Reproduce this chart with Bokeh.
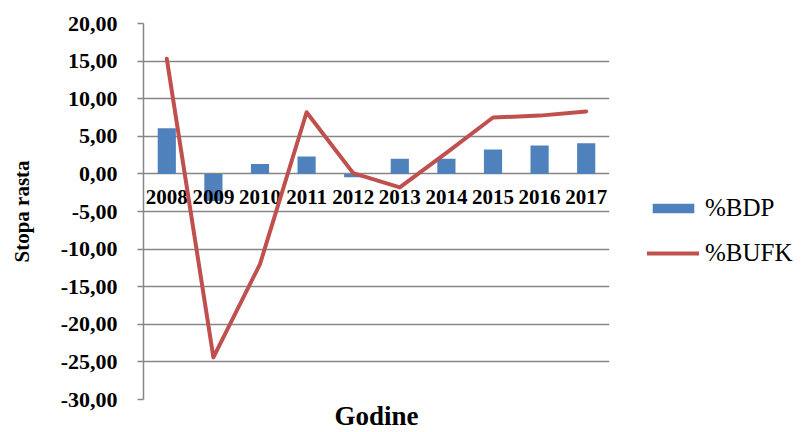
from bokeh.plotting import figure
from bokeh.models import ColumnDataSource, Legend, LegendItem, CustomJSTickFormatter, FixedTicker, Range1d
from bokeh.core.properties import value
from bokeh.embed import file_html
from bokeh.resources import INLINE

years = ["2008", "2009", "2010", "2011", "2012", "2013", "2014", "2015", "2016", "2017"]
bdp = [6.06, -3.6, 1.33, 2.3, -0.45, 2.0, 2.0, 3.23, 3.76, 4.07]
bufk = [15.3, -24.4, -12.0, 8.2, 0.1, -1.8, 2.8, 7.5, 7.75, 8.3]
y_ticks = [-30, -25, -20, -15, -10, -5, 0, 5, 10, 15, 20]

FONT = "Liberation Serif"
GRID = "#868686"

src = ColumnDataSource(dict(year=years, bdp=bdp, bufk=bufk, zero=[0] * len(years)))

p = figure(x_range=years, y_range=Range1d(-30, 20), frame_width=466, frame_height=376,
           output_backend="svg", toolbar_location=None,
           min_border_left=143, min_border_top=23, min_border_bottom=0, min_border_right=0)
p.outline_line_color = None
p.background_fill_color = "white"

# grid
p.xgrid.grid_line_color = None
p.ygrid.grid_line_color = GRID
p.ygrid.grid_line_width = 1.5

# y axis
p.yaxis.ticker = FixedTicker(ticks=y_ticks)
p.yaxis.formatter = CustomJSTickFormatter(code="return tick.toFixed(2).replace('.', ',');")
p.yaxis.axis_line_color = GRID
p.yaxis.axis_line_width = 1.5
p.yaxis.major_tick_line_color = GRID
p.yaxis.major_tick_line_width = 1.5
p.yaxis.major_tick_out = 6
p.yaxis.major_tick_in = 0
p.yaxis.minor_tick_line_color = None
p.yaxis.major_label_text_font = FONT
p.yaxis.major_label_text_font_style = "bold"
p.yaxis.major_label_text_font_size = "22px"
p.yaxis.major_label_text_color = "black"
p.yaxis.major_label_standoff = 20
p.yaxis.axis_label = "Stopa rasta"
p.yaxis.axis_label_text_font = FONT
p.yaxis.axis_label_text_font_style = "bold"
p.yaxis.axis_label_text_font_size = "21px"
p.yaxis.axis_label_text_color = "black"
p.yaxis.axis_label_standoff = 24

# x axis: only title
p.xaxis.axis_line_color = None
p.xaxis.major_tick_line_color = None
p.xaxis.major_tick_out = 0
p.xaxis.major_tick_in = 0
p.xaxis.minor_tick_line_color = None
p.xaxis.major_label_text_font_size = "0px"
p.xaxis.major_label_text_color = None
p.xaxis.major_label_standoff = 0
p.xaxis.axis_label = "Godine"
p.xaxis.axis_label_text_font = FONT
p.xaxis.axis_label_text_font_style = "bold"
p.xaxis.axis_label_text_font_size = "27px"
p.xaxis.axis_label_text_color = "black"
p.xaxis.axis_label_standoff = 1

bars = p.vbar(x="year", top="bdp", bottom=0, width=0.39, source=src,
              fill_color="#4F81BD", line_color=None)

p.text(x="year", y="zero", text="year", source=src, text_align="center",
       text_baseline="alphabetic", y_offset=23, text_font=value(FONT),
       text_font_style="bold", text_font_size="21px", text_color="black")

line = p.line(x="year", y="bufk", source=src, line_color="#C0504D", line_width=4,
              line_join="round", line_cap="round")

legend = Legend(items=[LegendItem(label="%BDP", renderers=[bars]),
                       LegendItem(label="%BUFK", renderers=[line])],
                location=(38, 132), orientation="vertical")
legend.label_text_font = FONT
legend.label_text_font_size = "25px"
legend.label_text_color = "black"
legend.glyph_width = 52
legend.glyph_height = 12
legend.label_standoff = 6
legend.spacing = 17
legend.border_line_color = None
legend.background_fill_alpha = 0
legend.padding = 0
legend.margin = 0
p.add_layout(legend, "right")

open("out.html", "w").write(file_html(p, INLINE))
